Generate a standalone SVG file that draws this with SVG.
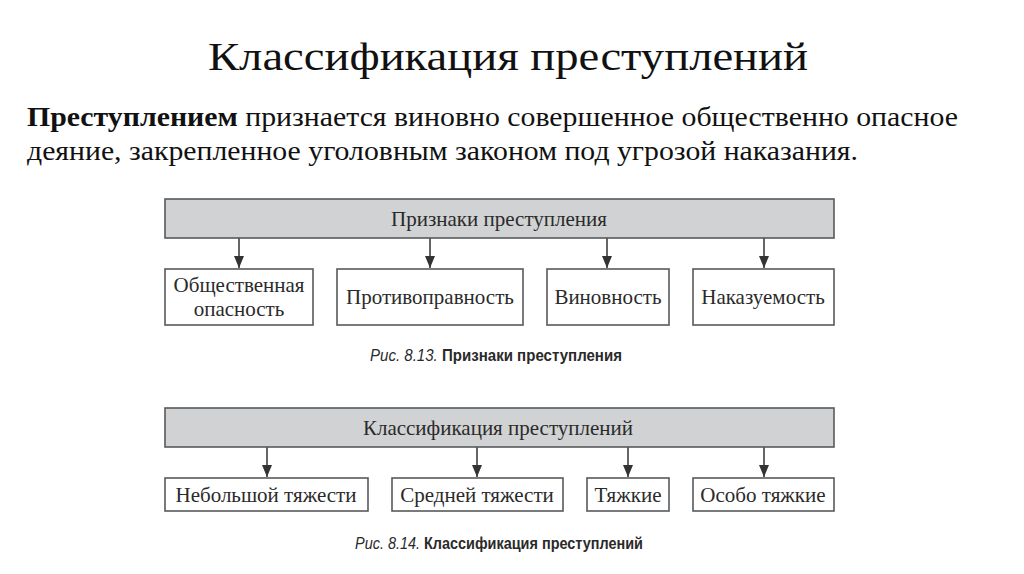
<svg xmlns="http://www.w3.org/2000/svg" width="1024" height="574" viewBox="0 0 1024 574">
<style>
.bg{fill:#ffffff}
.head{fill:#d1d2d4;stroke:#58595b;stroke-width:1.6}
.box{fill:#ffffff;stroke:#58595b;stroke-width:1.6}
.t{font-family:"Liberation Serif","DejaVu Serif",serif;font-size:21px;fill:#2a2a2a;text-anchor:middle}
.cap{font-family:"Liberation Sans","DejaVu Sans",sans-serif;font-size:17px;fill:#2a2a2a}
.title{font-family:"Liberation Serif","DejaVu Serif",serif;font-size:40px;fill:#111;text-anchor:middle}
.para{font-family:"Liberation Serif","DejaVu Serif",serif;font-size:27px;fill:#111}
.conn line{stroke:#333;stroke-width:1.5}
</style>
<defs>
<marker id="ah" viewBox="0 0 12 10" refX="12" refY="5" markerWidth="12" markerHeight="10" markerUnits="userSpaceOnUse" orient="auto">
<path d="M0,0 L12,5 L0,10 Z" fill="#333"/>
</marker>
</defs>
<rect class="bg" x="0" y="0" width="1024" height="574"/>
<text class="title" x="508" y="70" textLength="600" lengthAdjust="spacingAndGlyphs">Классификация преступлений</text>
<text class="para" x="27" y="126" textLength="931" lengthAdjust="spacingAndGlyphs"><tspan font-weight="bold">Преступлением</tspan> признается виновно совершенное общественно опасное</text>
<text class="para" x="27" y="160" textLength="831" lengthAdjust="spacingAndGlyphs">деяние, закрепленное уголовным законом под угрозой наказания.</text>

<g id="connectors" class="conn">
<line x1="239" y1="238" x2="239" y2="268" marker-end="url(#ah)"/>
<line x1="430" y1="238" x2="430" y2="268" marker-end="url(#ah)"/>
<line x1="607" y1="238" x2="607" y2="268" marker-end="url(#ah)"/>
<line x1="764" y1="238" x2="764" y2="268" marker-end="url(#ah)"/>
<line x1="267" y1="447" x2="267" y2="477" marker-end="url(#ah)"/>
<line x1="477" y1="447" x2="477" y2="477" marker-end="url(#ah)"/>
<line x1="628" y1="447" x2="628" y2="477" marker-end="url(#ah)"/>
<line x1="764" y1="447" x2="764" y2="477" marker-end="url(#ah)"/>
</g>

<g id="n-priznaki">
<rect class="head" x="165" y="199" width="669" height="39"/>
<text class="t" x="499" y="226">Признаки преступления</text>
</g>
<g id="n-opasnost">
<rect class="box" x="165" y="269" width="148" height="56"/>
<text class="t" x="239" y="292">Общественная</text>
<text class="t" x="239" y="316">опасность</text>
</g>
<g id="n-protivopravnost">
<rect class="box" x="337" y="269" width="186" height="56"/>
<text class="t" x="430" y="304">Противоправность</text>
</g>
<g id="n-vinovnost">
<rect class="box" x="547" y="269" width="122" height="56"/>
<text class="t" x="608" y="304">Виновность</text>
</g>
<g id="n-nakazuemost">
<rect class="box" x="693" y="269" width="141" height="56"/>
<text class="t" x="763" y="304">Наказуемость</text>
</g>
<g id="caption1">
<text class="cap" x="370" y="361" textLength="252" lengthAdjust="spacingAndGlyphs"><tspan font-style="italic">Рис. 8.13.</tspan> <tspan font-weight="bold">Признаки преступления</tspan></text>
</g>

<g id="n-klassifikacia">
<rect class="head" x="165" y="408" width="669" height="39"/>
<text class="t" x="498" y="435">Классификация преступлений</text>
</g>
<g id="n-nebolshoi">
<rect class="box" x="165" y="478" width="203" height="33"/>
<text class="t" x="266" y="502">Небольшой тяжести</text>
</g>
<g id="n-srednei">
<rect class="box" x="392" y="478" width="171" height="33"/>
<text class="t" x="477" y="502">Средней тяжести</text>
</g>
<g id="n-tyazhkie">
<rect class="box" x="587" y="478" width="82" height="33"/>
<text class="t" x="628" y="502">Тяжкие</text>
</g>
<g id="n-osobo">
<rect class="box" x="693" y="478" width="141" height="33"/>
<text class="t" x="763" y="502">Особо тяжкие</text>
</g>
<g id="caption2">
<text class="cap" x="355" y="549" textLength="288" lengthAdjust="spacingAndGlyphs"><tspan font-style="italic">Рис. 8.14.</tspan> <tspan font-weight="bold">Классификация преступлений</tspan></text>
</g>
</svg>
